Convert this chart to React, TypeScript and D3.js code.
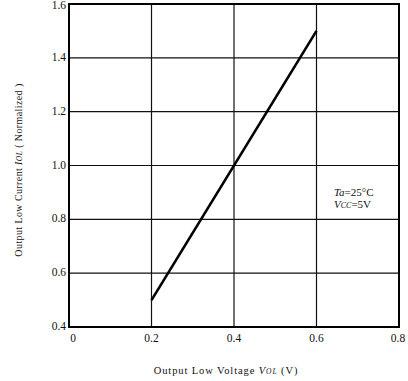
import React from "react";
import * as d3 from "d3";

const xTicks = [0, 0.2, 0.4, 0.6, 0.8];
const xTickLabels = ["0", "0.2", "0.4", "0.6", "0.8"];
const yTicks = [0.4, 0.6, 0.8, 1.0, 1.2, 1.4, 1.6];
const yTickLabels = ["0.4", "0.6", "0.8", "1.0", "1.2", "1.4", "1.6"];
const voltage = [0.2, 0.6];
const current = [0.5, 1.5];

export default function App() {
  const W = 408, H = 381;
  const x = d3.scaleLinear().domain([0, 0.8]).range([69, 399]);
  const y = d3.scaleLinear().domain([0.4, 1.6]).range([327, 4]);
  const pts = voltage.map((v, i) => [v, current[i]] as [number, number]);
  const line = d3.line<[number, number]>().x(d => x(d[0])).y(d => y(d[1]));
  const font = "'Liberation Serif', 'Times New Roman', serif";
  return (
    <svg width={W} height={H} style={{ position: "absolute", left: 0, top: 0, background: "#fff" }} fontFamily={font}>
      {xTicks.slice(1, -1).map(t => (
        <line key={"gx" + t} x1={x(t)} x2={x(t)} y1={y(1.6)} y2={y(0.4)} stroke="#111" strokeWidth={1.2} />
      ))}
      {yTicks.slice(1, -1).map(t => (
        <line key={"gy" + t} x1={x(0)} x2={x(0.8)} y1={y(t)} y2={y(t)} stroke="#111" strokeWidth={1.2} />
      ))}
      <rect x={x(0)} y={y(1.6)} width={x(0.8) - x(0)} height={y(0.4) - y(1.6)} fill="none" stroke="#000" strokeWidth={2} />
      <path d={line(pts) || ""} fill="none" stroke="#000" strokeWidth={2.6} />
      {yTicks.map((t, i) => (
        <text key={"yl" + t} x={x(0) - 3} y={i === yTicks.length - 1 ? y(t) + 5 : y(t) + 3} textAnchor="end" fontSize={11.5} fill="#111">{yTickLabels[i]}</text>
      ))}
      {xTicks.map((t, i) => (
        <text key={"xl" + t} x={i === 0 ? x(t) + 4 : i === xTicks.length - 1 ? x(t) - 1 : x(t)} y={342}
          textAnchor="middle" fontSize={11.5} fill="#111">{xTickLabels[i]}</text>
      ))}
      <text x={226} y={374} textAnchor="middle" fontSize={10.5} fill="#111" letterSpacing={0.9}>
        Output Low Voltage <tspan fontStyle="italic">V</tspan><tspan fontStyle="italic" fontSize={7.5}>OL</tspan> (V)
      </text>
      <text transform={`translate(22,170) rotate(-90)`} textAnchor="middle" fontSize={10} fill="#111" letterSpacing={0.4}>
        Output Low Current <tspan fontStyle="italic">I</tspan><tspan fontStyle="italic" fontSize={7.5}>OL</tspan> ( Normalized )
      </text>
      <text x={334} y={196} fontSize={11} fill="#111">
        <tspan fontStyle="italic">Ta</tspan>=25°C
      </text>
      <text x={334} y={208} fontSize={11} fill="#111">
        <tspan fontStyle="italic">V</tspan><tspan fontStyle="italic" fontSize={8}>CC</tspan>=5V
      </text>
    </svg>
  );
}
